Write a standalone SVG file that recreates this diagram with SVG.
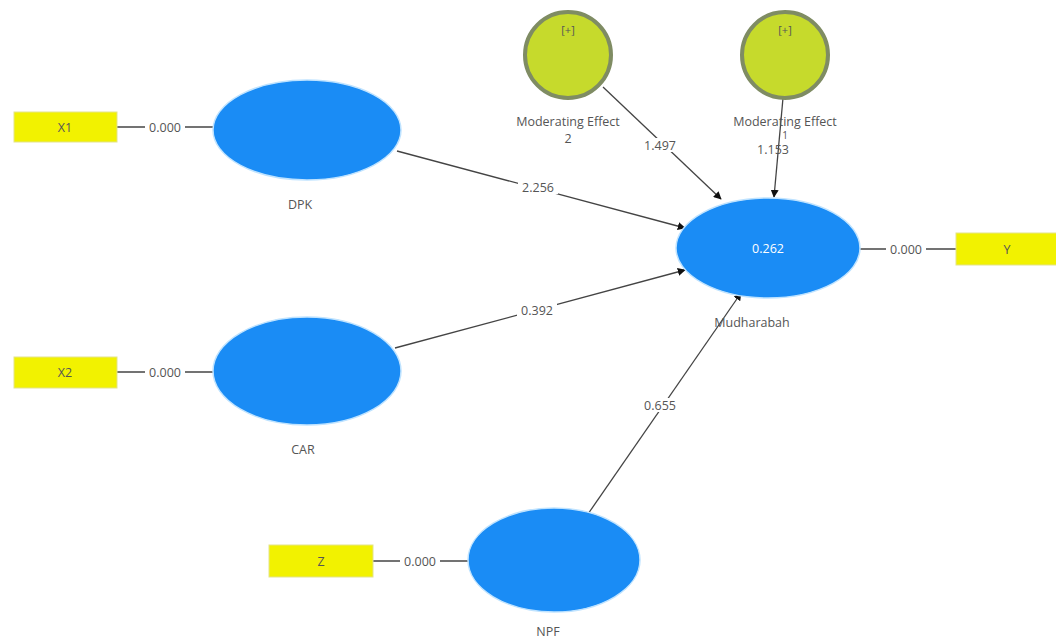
<svg xmlns="http://www.w3.org/2000/svg" width="1056" height="642" viewBox="0 0 1056 642">
<style>
.lv{fill:#1a8cf5;stroke:#bfe3ff;stroke-width:1.5}
.ind{fill:#f2f200;stroke:#e3e38a;stroke-width:1}
.mod{fill:#c6da2c;stroke:#7f8c63;stroke-width:4}
.t{font-family:"Open Sans","Liberation Sans",sans-serif;font-size:12.5px;fill:#555;text-anchor:middle}
.c{stroke:#444;stroke-width:1.3;fill:none}
.lb{fill:#fff}
</style>
<defs>
<marker id="ah" viewBox="0 0 10 10" refX="9" refY="5" markerWidth="8" markerHeight="8" orient="auto" markerUnits="userSpaceOnUse">
<path d="M0,0 L10,5 L0,10 z" fill="#111"/>
</marker>
</defs>
<rect width="1056" height="642" fill="#fff"/>
<g id="connectors">
<line class="c" x1="117" y1="127" x2="213" y2="127"/>
<line class="c" x1="117" y1="372" x2="213" y2="372"/>
<line class="c" x1="373" y1="561" x2="468" y2="561"/>
<line class="c" x1="860" y1="249" x2="956" y2="249"/>
<line class="c" x1="397" y1="151" x2="685" y2="228" marker-end="url(#ah)"/>
<line class="c" x1="395" y1="348" x2="685" y2="270" marker-end="url(#ah)"/>
<line class="c" x1="588" y1="514" x2="741" y2="293" marker-end="url(#ah)"/>
<line class="c" x1="603" y1="87" x2="721" y2="199" marker-end="url(#ah)"/>
<line class="c" x1="783" y1="98" x2="774" y2="197" marker-end="url(#ah)"/>
<rect class="lb" x="145" y="120" width="40" height="14"/>
<text class="t" x="165" y="131.5">0.000</text>
<rect class="lb" x="145" y="365" width="40" height="14"/>
<text class="t" x="165" y="376.5">0.000</text>
<rect class="lb" x="400" y="554" width="40" height="14"/>
<text class="t" x="420" y="565.5">0.000</text>
<rect class="lb" x="886" y="242" width="40" height="14"/>
<text class="t" x="906" y="253.5">0.000</text>
<rect class="lb" x="518" y="180" width="40" height="14"/>
<text class="t" x="538" y="191.5">2.256</text>
<rect class="lb" x="517" y="303" width="40" height="14"/>
<text class="t" x="537" y="314.5">0.392</text>
<rect class="lb" x="640" y="398" width="40" height="14"/>
<text class="t" x="660" y="409.5">0.655</text>
<rect class="lb" x="640" y="138" width="40" height="14"/>
<text class="t" x="660" y="149.5">1.497</text>
</g>
<g id="X1"><rect class="ind" x="14" y="112" width="103" height="30"/><text class="t" x="65" y="131.5">X1</text></g>
<g id="X2"><rect class="ind" x="14" y="357" width="103" height="31"/><text class="t" x="65" y="377">X2</text></g>
<g id="Z"><rect class="ind" x="269" y="545" width="104" height="32"/><text class="t" x="321" y="565.5">Z</text></g>
<g id="Y"><rect class="ind" x="956" y="233" width="102" height="32"/><text class="t" x="1007" y="253.5">Y</text></g>
<g id="DPK"><ellipse class="lv" cx="307" cy="130" rx="94" ry="50"/><text class="t" x="300" y="209">DPK</text></g>
<g id="CAR"><ellipse class="lv" cx="307" cy="371" rx="94" ry="54"/><text class="t" x="303" y="454">CAR</text></g>
<g id="NPF"><ellipse class="lv" cx="554" cy="560" rx="86" ry="52"/><text class="t" x="548" y="636">NPF</text></g>
<g id="Mudharabah"><ellipse class="lv" cx="768" cy="248" rx="92" ry="50"/><text class="t" x="768" y="253" style="fill:#fff">0.262</text><text class="t" x="752" y="327">Mudharabah</text></g>
<g id="ModeratingEffect2"><circle class="mod" cx="568" cy="55" r="43"/><text class="t" x="568" y="34" style="font-size:11px">[+]</text><text class="t" x="568" y="126">Moderating Effect</text><text class="t" x="568" y="143">2</text></g>
<g id="ModeratingEffect1"><circle class="mod" cx="785" cy="55" r="43"/><text class="t" x="785" y="34" style="font-size:11px">[+]</text><text class="t" x="785" y="126">Moderating Effect</text><text class="t" x="785" y="139" style="font-size:10px">1</text><text class="t" x="773" y="154">1.153</text></g>
</svg>
